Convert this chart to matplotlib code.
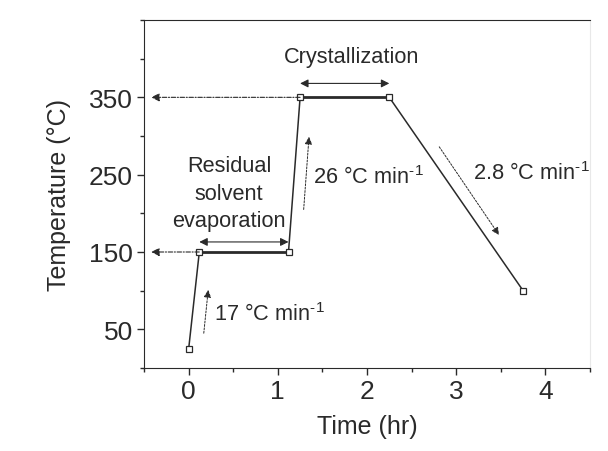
import numpy as np
import matplotlib.pyplot as plt
from matplotlib.ticker import MultipleLocator

plt.rcParams['font.family'] = ['Liberation Sans', 'DejaVu Sans']
plt.rcParams['mathtext.fontset'] = 'custom'
plt.rcParams['mathtext.rm'] = 'Liberation Sans'
plt.rcParams['mathtext.it'] = 'Liberation Sans'

# Temperature program
time_hr = [0.0, 0.12, 1.12, 1.25, 2.25, 3.75]
temp_c = [24, 150, 150, 350, 350, 100]
ramp_labels = ['17 °C min$^{\\text{-1}}$', '26 °C min$^{\\text{-1}}$',
               '2.8 °C min$^{\\text{-1}}$']
stage_labels = ['Residual\nsolvent\nevaporation', 'Crystallization']

INK = '#2a2a2a'

fig = plt.figure(figsize=(6.08, 4.52), dpi=100)
ax = fig.add_axes([144/608, 1 - 369/452, (590-144)/608, (369-21)/452])

# ramps thin, plateaus thick
for i in range(len(time_hr) - 1):
    lw = 2.0 if temp_c[i] == temp_c[i+1] else 1.1
    ax.plot(time_hr[i:i+2], temp_c[i:i+2], color=INK, lw=lw, zorder=2)
ax.plot(time_hr, temp_c, ls='none', marker='s', ms=5, mfc='white', mec=INK, mew=0.9, zorder=3)

# dash-dot arrows back to the axis
for t, T in [(time_hr[1], temp_c[1]), (time_hr[3], temp_c[3])]:
    ax.annotate('', xy=(-0.42, T), xytext=(t, T),
                arrowprops=dict(arrowstyle='-|>', color=INK, lw=0.8, ls=(0, (4, 1.5, 1, 1.5)),
                                mutation_scale=12, shrinkA=0, shrinkB=0))

# double arrows for stages
for (x0, x1, y) in [(time_hr[1], time_hr[2], 163), (time_hr[3], time_hr[4], 368)]:
    ax.annotate('', xy=(x1, y), xytext=(x0, y),
                arrowprops=dict(arrowstyle='<|-|>', color=INK, lw=0.8, mutation_scale=12,
                                shrinkA=0, shrinkB=0))

# dotted arrows for rates
rate_arrows = [((0.17, 45), (0.22, 101)), ((1.29, 205), (1.35, 299)), ((2.81, 286), (3.48, 172))]
for (p0, p1) in rate_arrows:
    ax.annotate('', xy=p1, xytext=p0,
                arrowprops=dict(arrowstyle='-|>', color=INK, lw=0.7, ls=(0, (2, 1.5)),
                                mutation_scale=11, shrinkA=0, shrinkB=0))

fs = 15.7
ax.text(0.28, 71, ramp_labels[0], fontsize=fs, color=INK, va='center', ha='left')
ax.text(1.39, 248, ramp_labels[1], fontsize=fs, color=INK, va='center', ha='left')
ax.text(3.19, 253, ramp_labels[2], fontsize=fs, color=INK, va='center', ha='left')
ax.text(1.09, 226, stage_labels[0], fontsize=fs, color=INK, va='center', ha='right',
        multialignment='center', linespacing=1.4)
ax.text(1.83, 403, stage_labels[1], fontsize=fs, color=INK, va='center', ha='center')

ax.set_xlim(-0.5, 4.5)
ax.set_ylim(0, 450)
ax.set_xticks([0, 1, 2, 3, 4])
ax.set_yticks([50, 150, 250, 350])
ax.xaxis.set_minor_locator(MultipleLocator(0.5))
ax.yaxis.set_minor_locator(MultipleLocator(50))
ax.tick_params(which='major', direction='out', length=5, width=1, colors=INK, labelsize=19, pad=3)
ax.tick_params(which='minor', direction='out', length=3, width=1, colors=INK)
ax.spines['right'].set_color('#e8e8e8')
for s in ['left', 'top', 'bottom']:
    ax.spines[s].set_color(INK)
ax.set_xlabel('Time (hr)', fontsize=18, color=INK, labelpad=8)
ax.set_ylabel('Temperature (°C)', fontsize=18, color=INK, labelpad=13)

fig.savefig('out.png', dpi=100)
